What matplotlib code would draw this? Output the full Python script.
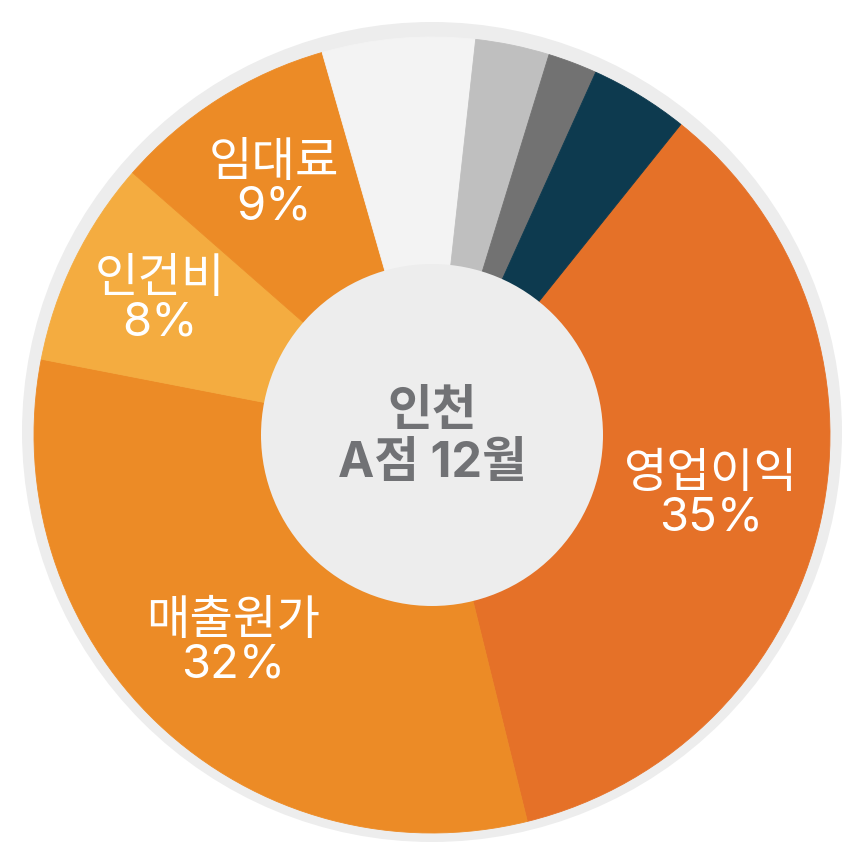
import numpy as np
import matplotlib
matplotlib.use("Agg")
import matplotlib.pyplot as plt
from matplotlib.patches import Circle

plt.rcParams['font.family'] = ['Inter', 'Noto Sans CJK KR', 'DejaVu Sans']

# slices, clockwise starting from 영업이익
labels = ['영업이익', '매출원가', '인건비', '임대료', '', '', '', '']
values = [35.4, 31.9, 8.4, 9.1, 6.2, 3.0, 2.0, 4.0]
colors = ['#E57128', '#EC8B26', '#F4AC40', '#EC8B26',
          '#F3F3F3', '#BFBFBF', '#727272', '#0D3A4F']
center_title = '인천\nA점 12월'

W = 864
fig = plt.figure(figsize=(8.64, 8.64), dpi=100)
ax = fig.add_axes([0, 0, 1, 1])

cx, cy = 432, W - 435
R = 398

# outer light ring
ax.add_patch(Circle((432, 432), 410, facecolor='#EDEDED', edgecolor='none', zorder=0))

wedges, _ = ax.pie(values, colors=colors, startangle=90 - 38.7, counterclock=False,
                   center=(cx, cy), radius=R, frame=True,
                   wedgeprops=dict(linewidth=0.6, antialiased=True))
for w, c in zip(wedges, colors):
    w.set_edgecolor(c)
    w.set_zorder(1)
ax.set_xlim(0, W)
ax.set_ylim(0, W)
ax.set_aspect('equal')
ax.axis('off')

# label text inside slices
lab_r = [286, 288, 303, 295]
for w, lab, v, r in zip(wedges, labels, values, lab_r + [0] * 4):
    if not lab:
        continue
    mid = np.deg2rad((w.theta1 + w.theta2) / 2)
    x = cx + r * np.cos(mid)
    y = cy + r * np.sin(mid)
    ax.text(x, y, f"{lab}\n{round(v)}%", ha='center', va='center', color='white',
            fontsize=34, linespacing=1.0, zorder=3)

# center hole
ax.add_patch(Circle((cx, cy), 171, facecolor='#EDEDED', edgecolor='none', zorder=2))
ax.text(cx, W - 438, center_title, ha='center', va='center', color='#717275',
        fontsize=35, fontweight='bold', linespacing=1.15, zorder=3)

fig.savefig('out.png', dpi=100, facecolor='white')
